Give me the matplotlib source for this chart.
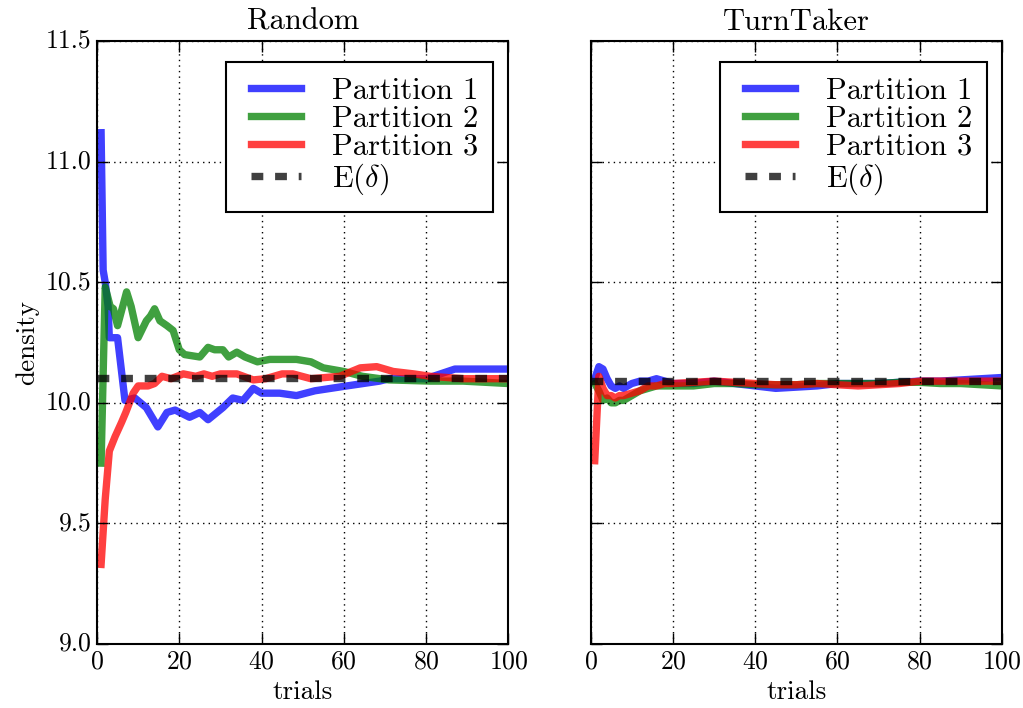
import matplotlib
matplotlib.use("Agg")
import matplotlib.pyplot as plt

plt.style.use("classic")
plt.rcParams["font.family"] = "serif"
plt.rcParams["font.serif"] = ["cmr10"]
plt.rcParams["mathtext.fontset"] = "cm"
plt.rcParams["axes.formatter.use_mathtext"] = True
plt.rcParams["lines.scale_dashes"] = False

# ---- Random strategy: running density per partition ----
rand_t1 = [1, 1.5, 2, 2.7, 3, 5, 6.8, 9.2, 12, 14.8, 17, 19, 22.5, 25, 27, 30.6, 33,
           35.5, 38, 40, 44.4, 48.5, 53, 60.7, 68.7, 71, 80, 87, 99.5, 100]
rand_p1 = [11.12, 10.55, 10.50, 10.40, 10.27, 10.27, 10.01, 10.02, 9.98, 9.90, 9.96,
           9.97, 9.94, 9.96, 9.93, 9.98, 10.02, 10.01, 10.06, 10.04, 10.04, 10.03,
           10.05, 10.07, 10.09, 10.10, 10.10, 10.14, 10.14, 10.14]

rand_t2 = [1, 2, 3.2, 4, 5, 7.2, 8.3, 10, 12, 13, 14, 15.3, 17, 18.5, 20, 21.3, 25, 27,
           28.6, 30.6, 32, 34, 36, 39, 42, 46, 48.5, 52, 55, 60, 64.5, 71, 81, 89, 100]
rand_p2 = [9.75, 10.48, 10.40, 10.39, 10.32, 10.46, 10.40, 10.27, 10.34, 10.36, 10.39,
           10.34, 10.32, 10.30, 10.22, 10.20, 10.19, 10.23, 10.22, 10.22, 10.19, 10.21,
           10.19, 10.17, 10.18, 10.18, 10.18, 10.17, 10.145, 10.13, 10.11, 10.095,
           10.09, 10.09, 10.08]

rand_t3 = [1, 2, 3, 4.4, 6, 7, 8.8, 10, 12.4, 14, 15.8, 18, 21, 24, 26, 28, 30, 34, 38,
           41, 45, 47.6, 52, 59, 64, 68, 72, 77, 81, 89, 100]
rand_p3 = [9.33, 9.60, 9.80, 9.86, 9.92, 9.96, 10.04, 10.07, 10.07, 10.08, 10.11, 10.10,
           10.12, 10.11, 10.12, 10.11, 10.12, 10.12, 10.095, 10.10, 10.12, 10.12, 10.10,
           10.11, 10.145, 10.15, 10.13, 10.12, 10.11, 10.10, 10.10]

rand_expected = 10.104

# ---- TurnTaker strategy ----
turn_t = [1, 2, 3, 4, 5, 6, 7, 8, 10, 12, 14, 16, 18, 20, 25, 30, 35, 40, 45, 50, 55,
          60, 65, 70, 75, 80, 85, 90, 95, 100]
turn_p1 = [10.10, 10.15, 10.14, 10.10, 10.07, 10.06, 10.07, 10.06, 10.08, 10.09, 10.09,
           10.10, 10.09, 10.08, 10.08, 10.09, 10.08, 10.07, 10.06, 10.065, 10.07, 10.08,
           10.08, 10.08, 10.085, 10.09, 10.09, 10.095, 10.10, 10.105]
turn_p2 = [10.08, 10.05, 10.01, 10.02, 10.00, 10.00, 10.01, 10.01, 10.03, 10.05, 10.06,
           10.07, 10.07, 10.07, 10.07, 10.08, 10.08, 10.075, 10.075, 10.075, 10.08,
           10.08, 10.08, 10.08, 10.085, 10.085, 10.08, 10.08, 10.075, 10.07]
turn_p3 = [9.76, 10.11, 10.06, 10.03, 10.03, 10.02, 10.03, 10.03, 10.04, 10.05, 10.07,
           10.07, 10.08, 10.08, 10.085, 10.09, 10.085, 10.08, 10.075, 10.075, 10.08,
           10.075, 10.07, 10.075, 10.08, 10.09, 10.09, 10.09, 10.09, 10.09]
turn_expected = 10.09

titles = ["Random", "TurnTaker"]
labels = ["Partition 1", "Partition 2", "Partition 3", r"E$(\delta)$"]
colors = ["b", "g", "r"]

fig, axes = plt.subplots(1, 2, sharey=True, figsize=(10.23, 7.08), dpi=100)
fig.patch.set_facecolor("white")
fig.subplots_adjust(left=0.0948, right=0.9795, bottom=0.0904, top=0.942, wspace=0.2)

panels = [
    ([(rand_t1, rand_p1), (rand_t2, rand_p2), (rand_t3, rand_p3)], rand_expected),
    ([(turn_t, turn_p1), (turn_t, turn_p2), (turn_t, turn_p3)], turn_expected),
]

for ax, title, (series, expected) in zip(axes, titles, panels):
    for (t, v), c, lab in zip(series, colors, labels):
        ax.plot(t, v, color=c, lw=5.3, alpha=0.75, label=lab)
    ax.plot([0, 100], [expected, expected], color="k", lw=5.3, alpha=0.75,
            linestyle="--", dashes=(8.5, 8.5), label=labels[3])
    ax.set_xlim(0, 100)
    ax.set_ylim(9.0, 11.5)
    ax.set_xticks([0, 20, 40, 60, 80, 100])
    ax.set_yticks([9.0, 9.5, 10.0, 10.5, 11.0, 11.5])
    ax.grid(True, color="k", linestyle=":", linewidth=1)
    ax.set_title(title, fontsize=22, pad=8)
    ax.set_xlabel("trials", fontsize=19.5, labelpad=5)
    ax.tick_params(labelsize=18.5, direction="in", length=8, width=1)
    for s in ax.spines.values():
        s.set_linewidth(1.5)
    leg = ax.legend(loc="upper right", bbox_to_anchor=(0.9636, 0.965),
                    borderaxespad=0, fontsize=22, handlelength=2.25,
                    labelspacing=0.02, borderpad=0.5, handletextpad=0.7,
                    fancybox=False, framealpha=1)
    leg.get_frame().set_edgecolor("k")
    leg.get_frame().set_linewidth(1.5)

axes[0].set_ylabel("density", fontsize=19.5)
axes[0].yaxis.set_major_formatter(matplotlib.ticker.FormatStrFormatter("%.1f"))

fig.savefig("out.png", dpi=100, facecolor="white")
